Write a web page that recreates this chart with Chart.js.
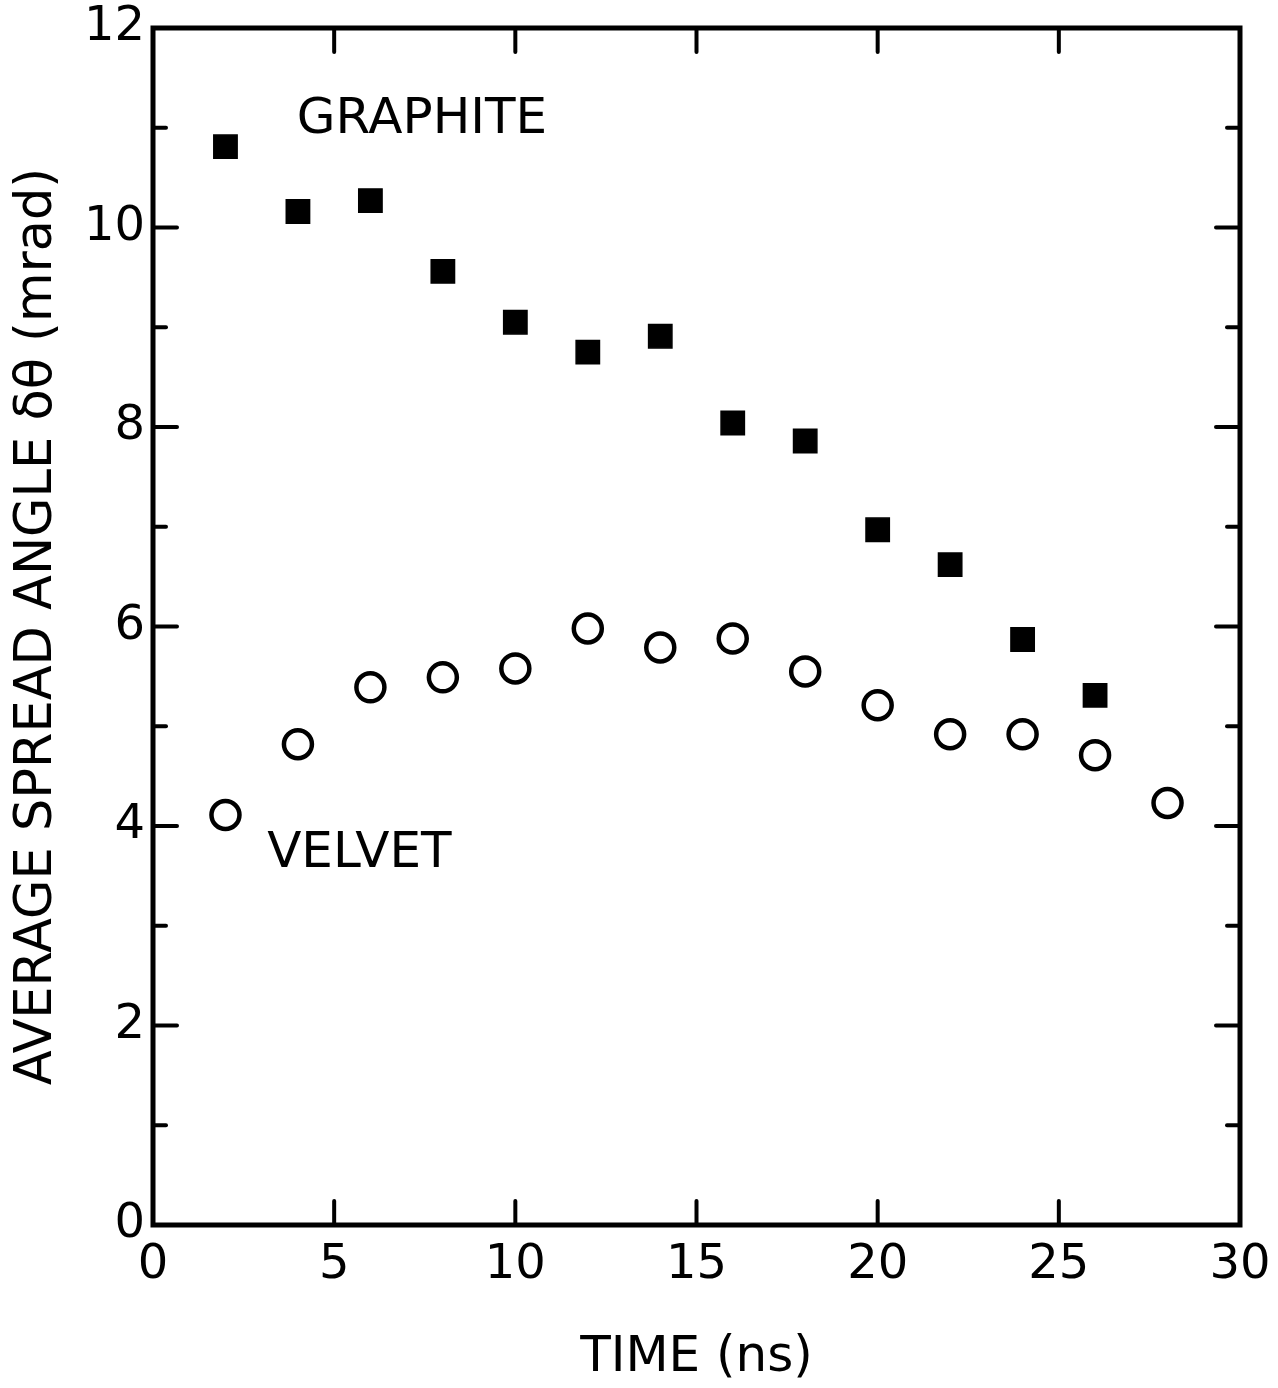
<!DOCTYPE html>
<html>
<head>
<meta charset="utf-8">
<title>Average spread angle vs time</title>
<script src="https://cdn.jsdelivr.net/npm/chart.js@4.4.1/dist/chart.umd.min.js"></script>
<style>
    html, body { margin: 0; padding: 0; background: #ffffff; }
    canvas { display: block; }
</style>
</head>
<body>
<canvas id="spread-chart" width="1278" height="1388"></canvas>
<script>
// *** DATA ***
var timeGraphite = [2, 4, 6, 8, 10, 12, 14, 16, 18, 20, 22, 24, 26];
var angleGraphite = [10.81, 10.16, 10.27, 9.56, 9.05, 8.75, 8.91, 8.04, 7.86, 6.97, 6.62, 5.87, 5.31];

var timeVelvet = [2, 4, 6, 8, 10, 12, 14, 16, 18, 20, 22, 24, 26, 28];
var angleVelvet = [4.11, 4.82, 5.39, 5.49, 5.58, 5.98, 5.79, 5.88, 5.55, 5.21, 4.92, 4.92, 4.71, 4.23];

var xMajorTicks = [5, 10, 15, 20, 25];
var yMajorTicks = [2, 4, 6, 8, 10];
var yMinorTicks = [1, 3, 5, 7, 9, 11];

var fontFamily = "'DejaVu Sans', sans-serif";

// *** FUNCTIONS ***
function toPoints(xs, ys) {
    var points = [];
    for (var i = 0; i < xs.length; i++) {
        points.push({ x: xs[i], y: ys[i] });
    }
    return points;
}

// box round the plot and the inward tick marks on all four sides
var framePlugin = {
    id: 'frame',
    afterDraw: function(chart) {
        var ctx = chart.ctx;
        var area = chart.chartArea;
        var xScale = chart.scales.x;
        var yScale = chart.scales.y;
        ctx.save();
        ctx.strokeStyle = '#000';
        ctx.lineCap = 'round';

        ctx.lineWidth = 4;
        function tick(x1, y1, x2, y2) {
            ctx.beginPath();
            ctx.moveTo(x1, y1);
            ctx.lineTo(x2, y2);
            ctx.stroke();
        }
        xMajorTicks.forEach(function(v) {
            var px = xScale.getPixelForValue(v);
            tick(px, area.bottom, px, area.bottom - 24);
            tick(px, area.top, px, area.top + 24);
        });
        yMajorTicks.forEach(function(v) {
            var py = yScale.getPixelForValue(v);
            tick(area.left, py, area.left + 24, py);
            tick(area.right, py, area.right - 24, py);
        });
        yMinorTicks.forEach(function(v) {
            var py = yScale.getPixelForValue(v);
            tick(area.left, py, area.left + 13, py);
            tick(area.right, py, area.right - 13, py);
        });

        ctx.lineWidth = 5;
        ctx.lineJoin = 'miter';
        ctx.lineCap = 'butt';
        ctx.strokeRect(area.left, area.top, area.right - area.left, area.bottom - area.top);
        ctx.restore();
    }
};

// series names written inside the plot
var namesPlugin = {
    id: 'seriesNames',
    afterDatasetsDraw: function(chart, args, opts) {
        var ctx = chart.ctx;
        var xScale = chart.scales.x;
        var yScale = chart.scales.y;
        ctx.save();
        ctx.fillStyle = '#000';
        ctx.font = '50px ' + fontFamily;
        ctx.textAlign = 'left';
        ctx.textBaseline = 'alphabetic';
        opts.labels.forEach(function(item) {
            ctx.fillText(item.text, xScale.getPixelForValue(item.x), yScale.getPixelForValue(item.y));
        });
        ctx.restore();
    }
};

var spreadChart = new Chart(document.getElementById('spread-chart'), {
    type: 'scatter',
    data: {
        datasets: [{
            label: 'GRAPHITE',
            data: toPoints(timeGraphite, angleGraphite),
            pointStyle: 'rect',
            pointRadius: 16.5,
            pointHoverRadius: 16.5,
            backgroundColor: '#000',
            borderColor: '#000',
            borderWidth: 1.5
        }, {
            label: 'VELVET',
            data: toPoints(timeVelvet, angleVelvet),
            pointStyle: 'circle',
            pointRadius: 14,
            pointHoverRadius: 14,
            backgroundColor: '#fff',
            borderColor: '#000',
            borderWidth: 4.5
        }]
    },
    options: {
        responsive: false,
        animation: false,
        events: [],
        layout: {
            padding: { top: 28, right: 38, left: 0, bottom: 0 }
        },
        plugins: {
            legend: { display: false },
            tooltip: { enabled: false },
            seriesNames: {
                labels: [
                    { text: 'GRAPHITE', x: 3.97, y: 10.95 },
                    { text: 'VELVET', x: 3.15, y: 3.59 }
                ]
            }
        },
        scales: {
            x: {
                type: 'linear',
                min: 0,
                max: 30,
                grid: { display: false, drawTicks: false },
                border: { display: false },
                ticks: {
                    stepSize: 5,
                    padding: 12,
                    color: '#000',
                    font: { family: fontFamily, size: 48 }
                },
                title: {
                    display: true,
                    text: 'TIME (ns)',
                    color: '#000',
                    padding: { top: 7, bottom: 0 },
                    font: { family: fontFamily, size: 50 }
                },
                afterFit: function(scale) {
                    scale.height = 163;
                    scale.paddingLeft = 0;
                    scale.paddingRight = 0;
                }
            },
            y: {
                type: 'linear',
                min: 0,
                max: 12,
                grid: { display: false, drawTicks: false },
                border: { display: false },
                ticks: {
                    stepSize: 2,
                    padding: 8,
                    color: '#000',
                    font: { family: fontFamily, size: 48 }
                },
                title: {
                    display: true,
                    text: 'AVERAGE SPREAD ANGLE δθ (mrad)',
                    color: '#000',
                    padding: { top: 7, bottom: 0 },
                    font: { family: fontFamily, size: 51 }
                },
                afterFit: function(scale) {
                    scale.width = 153;
                    scale.paddingTop = 0;
                    scale.paddingBottom = 0;
                }
            }
        }
    },
    plugins: [framePlugin, namesPlugin]
});
</script>
</body>
</html>
